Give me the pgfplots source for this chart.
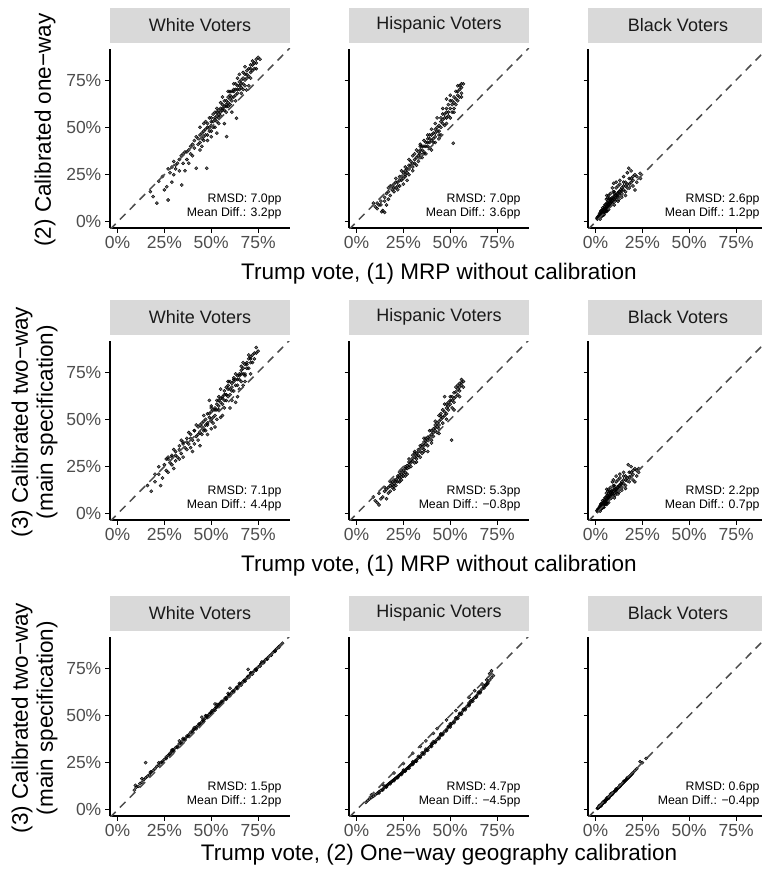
\documentclass[border=0pt]{standalone}
\usepackage{pgfplots}
\pgfplotsset{compat=1.18}
\usepackage{fontspec}
\setmainfont{Liberation Sans}
\definecolor{stripgray}{HTML}{D9D9D9}
\definecolor{tickgray}{HTML}{4D4D4D}
\definecolor{textdark}{HTML}{1A1A1A}
\pgfplotsset{
 panel/.style={
  scale only axis, width=180pt, height=179pt, anchor=south west,
  xmin=-4, xmax=92, ymin=-3.2, ymax=91.4,
  axis x line*=bottom, axis y line*=left,
  axis line style={-, line width=1.3pt, black},
  xtick={0,25,50,75}, ytick={0,25,50,75},
  xticklabels={0\%,25\%,50\%,75\%},
  yticklabels={0\%,25\%,50\%,75\%},
  tick align=outside, major tick length=4.5pt,
  every tick/.style={black, line width=1pt},
  tick label style={font=\fontsize{17.5}{17.5}\selectfont, text=tickgray, inner sep=1pt},
  xticklabel style={yshift=-3pt},
  yticklabel style={xshift=-3pt},
  title style={at={(0.5,1)}, anchor=south, fill=stripgray, minimum width=180pt, minimum height=35pt, inner sep=0pt, text=textdark, font=\fontsize{18}{18}\selectfont},
  clip mode=individual,
 },
 noy/.style={yticklabels={}},
 pts/.style={only marks, mark=*, mark size=1.6pt, mark options={draw=none, fill=black, fill opacity=0.6}},
 diag/.style={no marks, color=black!70, line width=1.5pt, dash pattern=on 8pt off 6pt},
}
\tikzset{
 ann/.style={anchor=base east, inner sep=0pt, font=\fontsize{12.3}{12.3}\selectfont},
 ylab/.style={rotate=90, align=center, inner sep=0pt, font=\fontsize{22.5}{25}\selectfont},
 xlab/.style={anchor=base, inner sep=0pt, font=\fontsize{22.5}{25}\selectfont},
}
\begin{document}
\begin{tikzpicture}
\useasboundingbox (0pt,0pt) rectangle (762pt,-871pt);
% ---------------- Row 1 ----------------
\begin{axis}[panel, at={(110pt,-228pt)}, title={White Voters}]
\addplot[pts] coordinates {(17.5,16)(19,13.4)(21,10)(26.3,18.6)(27,11.6)(34.3,19.5)(25,17)(22,21.5)(24,24)(28,26)(29,21)(31,28)(30,32)(32,31)(33,27)(36,27)(37,33)(42,28.4)(47.6,28.4)(38,38)(39,36)(40,41)(41,39)(36,37)(34,35)(38,31)(43,44)(44,42)(45,47)(46,45)(44,38)(47,49)(48,50)(46,52)(49,48)(50,51)(51,53)(49,55)(50,45)(52,50)(53,56)(52,58)(54,57)(55,60)(54,52)(56,62)(55,56)(57,61)(58,64)(56,66)(59,63)(60,67)(58,58)(61,69)(62,66)(60,62)(63,70)(62,73)(64,68)(65,74)(66,71)(63,64)(67,76)(65,78)(68,75)(66,68)(69,80)(70,77)(68,82)(71,83)(72,85)(70,72)(73,84)(74,86)(75,87)(72,80)(76,86)(68.8,69.7)(63.5,54.8)(58.2,45.1)(53,47)(57,52)(61,58)(48,43)(42,45)(44,50)(51,57)(55,63)(59,69)(53,60)(47,53)(45,40)(40,35)(35,31)(30,25)(64,76)(67,70)(71,76)(74,81)};
\addplot[pts] coordinates {(45,44)(46,48)(47,46)(48,52)(49,50)(50,53)(51,50)(52,55)(53,53)(54,59)(55,58)(56,59)(57,64)(58,62)(59,66)(60,65)(61,64)(62,69)(63,67)(64,72)(65,70)(66,75)(67,73)(68,78)(69,76)(70,81)(71,79)(72,83)(73,81)(74,84)(50,48)(52,54)(54,55)(56,60)(58,61)(60,69)(62,70)(64,70)(66,73)(68,72)(43,41)(41,43)(39,40)(37,37)(35,36)(33,33)(31,30)(29,29)(27,28)(44,46)(46,43)(48,46)(50,55)(53,58)(57,59)(59,61)(61,66)(63,73)(65,72)(67,79)(69,78)(71,81)};
\addplot[diag] coordinates {(-4,-4)(92,92)};
\node[ann] at (rel axis cs:0.954,0.145) {RMSD: 7.0pp};
\node[ann] at (rel axis cs:0.954,0.063) {Mean Diff.: 3.2pp};
\node[ylab] at ([xshift=-65pt]rel axis cs:0,0.547) {(2) Calibrated one−way};
\end{axis}
\begin{axis}[panel, noy, at={(349pt,-228pt)}, title={Hispanic Voters}]
\addplot[pts] coordinates {(9,10)(10,8)(11,7)(12,9)(13.5,5.4)(14,6)(15,5)(16,9)(13,11)(15,13)(17,12)(16,15)(18,14)(19,17)(18,19)(20,16)(20,20)(21,18)(22,21)(21,23)(22,17)(23,22)(24,24)(23,19)(25,23)(24,27)(26,25)(25,20)(27,26)(26,29)(28,28)(27,22)(29,30)(28,33)(30,31)(30,27)(31,33)(32,30)(31,36)(33,35)(32,38)(34,36)(33,32)(35,38)(34,41)(36,37)(35,34)(37,40)(36,43)(38,42)(37,36)(39,44)(38,46)(40,43)(39,39)(41,47)(40,49)(42,45)(41,42)(43,50)(42,52)(44,48)(43,55)(45,53)(44,44)(46,57)(45,50)(47,55)(46,60)(48,58)(47,51)(49,62)(48,65)(50,60)(49,56)(51,64)(50,67)(52,63)(51.6,41.6)(51,58)(53,69)(52,66)(54,67)(53,62)(55,70)(54,72)(56,71)(55,66)(57,73)(56,68)(30,35)(34,40)(38,44)(42,49)(46,54)(26,27)(21,21)(17,16)(11,10)(28,25)(40,38)(44,46)(48,52)};
\addplot[pts] coordinates {(20,18)(22,19)(24,22)(26,24)(28,30)(30,29)(32,34)(34,38)(36,40)(38,40)(40,46)(42,47)(44,51)(46,52)(48,60)(50,64)(52,60)(54,69)(56,73)(23,24)(25,26)(27,28)(29,32)(31,31)(33,37)(35,40)(37,42)(39,46)(41,44)(43,48)(45,55)(47,57)(49,58)(51,62)(53,65)(55,72)(19,19)(17,18)(15,11)(13,9)(36,36)(39,42)(42,42)(45,46)(48,55)(50,55)(52,58)(54,64)(56,66)(34,34)};
\addplot[diag] coordinates {(-4,-4)(92,92)};
\node[ann] at (rel axis cs:0.954,0.145) {RMSD: 7.0pp};
\node[ann] at (rel axis cs:0.954,0.063) {Mean Diff.: 3.6pp};
\node[xlab] at ([yshift=-51pt]rel axis cs:0.5,0) {Trump vote, (1) MRP without calibration};
\end{axis}
\begin{axis}[panel, noy, at={(588pt,-228pt)}, title={Black Voters}]
\addplot[pts] coordinates {(0.7,2)(1,1.5)(1.5,2)(2,2.5)(1.8,3.5)(2.5,3)(3,2.8)(2.2,4.5)(3,4)(3.5,5)(3,6)(4,4.5)(4,6.5)(4.5,5)(5,6)(4.8,8)(5.5,5.5)(5,9)(6,7)(6,10)(6.5,8)(5.8,12)(7,8)(7,11)(7.5,9)(7.8,11.6)(7,14)(8,10)(8.5,12)(8,15)(9,10)(9,13)(9.5,16)(9.7,20.4)(10,12)(10,15)(10.5,11)(11,14)(11,18)(11.5,13)(12,15)(12,19)(12.5,12)(13,16)(13,20)(14,15)(14,18)(15,17)(15,21)(16,16)(16,19)(17,20)(17.7,28.4)(18,18)(18,23)(19,21)(20,22)(21.1,16.9)(21,25)(22,24)(23.8,25.7)(19,27)(15,24)(2.5,1.5)(3.5,3.2)(4.5,3.8)(6,5.5)(7,6.5)(1.2,2.8)(2.8,5.5)(3.8,7.5)(6.5,12.5)(8.5,9)(10,9)(12,11)(14,13)(16,14)(13,22)(11,21)(6,14)(9,18)(17,26)(20,19)(22,21)(24,23)};
\addplot[pts] coordinates {(1.5,2.5)(2,3.2)(2.5,4)(3,3.3)(3.5,4)(4,5.2)(4.5,6)(5,5.2)(5.5,7)(6,8.2)(6.5,6.8)(7,9.5)(7.5,10.5)(8,8.5)(8.5,10.5)(9,11.5)(9.5,12.5)(10,13.5)(10.5,14)(11,12)(11.5,15)(12,13)(12.5,16)(13,14)(13.5,17)(14,16.5)(15,19)(16,21)(17,18)(18,20)(19,23)(20,24)(3,4.8)(4,3.5)(5,7)(6,6)(7,9)(8,12)(9,11)(10,16)(5.5,9)(6.5,10)(7.5,12.5)(4.5,7)(3.5,6)};
\addplot[diag] coordinates {(-4,-4)(92,92)};
\node[ann] at (rel axis cs:0.954,0.145) {RMSD: 2.6pp};
\node[ann] at (rel axis cs:0.954,0.063) {Mean Diff.: 1.2pp};
\end{axis}
% ---------------- Row 2 ----------------
\begin{axis}[panel, at={(110pt,-520pt)}, title={White Voters}]
\addplot[pts] coordinates {(16,15)(18,12)(20,17)(22,21)(24,19)(25,26)(26,23)(27,30)(28,27)(29,31)(30,24)(31,33)(32,30)(33,36)(34,32)(35,38)(36,35)(37,40)(38,37)(39,42)(40,39)(41,44)(42,41)(40,33)(43,46)(44,43)(45,48)(46,45)(44,36)(47,50)(48,47)(49,53)(50,50)(48,42)(51,55)(52,52)(53,58)(54,55)(52,46)(55,61)(56,58)(57,63)(58,60)(56,52)(59,66)(60,63)(61,69)(62,65)(60,56)(63,71)(64,68)(65,74)(66,70)(64,62)(67,77)(68,74)(69,80)(70,77)(68,70)(71,83)(72,80)(73,85)(74,88)(75,86)(70,84)(66,78)(62,72)(58,67)(54,62)(50,57)(46,52)(42,47)(38,43)(34,39)(30,34)(26,29)(22,25)(53,50)(57,56)(61,60)(65,66)(45,42)(41,37)(37,34)(33,29)(29,26)(50,45)(55,51)(63,59)(67,68)(71,74)(49,60)(55,66)(59,70)(35,30)(20,21)(23,15)(27,22)(31,28)(47,44)(51,48)(43,39)(39,35)};
\addplot[pts] coordinates {(45,46)(46,49)(47,47)(48,53)(49,51)(50,54)(51,51)(52,56)(53,55)(54,60)(55,59)(56,61)(57,65)(58,63)(59,68)(60,66)(61,65)(62,70)(63,68)(64,73)(65,71)(66,76)(67,74)(68,79)(69,77)(70,82)(71,80)(72,84)(73,82)(74,85)(50,49)(52,55)(54,57)(56,62)(58,63)(60,70)(62,71)(64,71)(66,74)(68,73)(43,42)(41,44)(39,40)(37,38)(35,37)(33,34)(31,31)(29,30)(27,29)(44,47)(46,44)(48,48)(50,56)(53,60)(57,60)(59,62)(61,67)(63,74)(65,73)(67,80)(69,79)(71,82)};
\addplot[diag] coordinates {(-4,-4)(92,92)};
\node[ann] at (rel axis cs:0.954,0.145) {RMSD: 7.1pp};
\node[ann] at (rel axis cs:0.954,0.063) {Mean Diff.: 4.4pp};
\node[ylab] at ([xshift=-75.5pt]rel axis cs:0,0.547) {(3) Calibrated two−way\\(main specification)};
\end{axis}
\begin{axis}[panel, noy, at={(349pt,-520pt)}, title={Hispanic Voters}]
\addplot[pts] coordinates {(9,9)(10,7)(11,6)(12,4.8)(13,8)(12,11)(14,9)(15,12)(16,8)(16,13)(17,11)(18,15)(18,12)(19,14)(19,17)(20,16)(20,13)(21,18)(21,15)(22,17)(22,20)(23,19)(23,22)(24,18)(24,21)(25,23)(25,20)(26,22)(26,25)(27,24)(27,21)(28,26)(28,29)(29,25)(29,28)(30,28)(30,31)(31,27)(31,30)(32,32)(32,29)(33,31)(33,34)(34,33)(34,36)(35,35)(35,32)(36,38)(36,34)(37,37)(37,40)(38,39)(38,36)(39,41)(39,44)(40,42)(40,39)(41,45)(41,41)(42,44)(42,47)(43,46)(43,43)(44,49)(44,45)(45,50)(45,53)(46,48)(46,55)(47,52)(47,58)(48,56)(48,53)(49,59)(49,55)(50,58)(50,62)(50.7,39)(51,60)(51,56)(52,64)(52,61)(53,62)(53,67)(54,66)(54,63)(55,65)(55,69)(56,68)(56,71)(57,67)(57,70)(47,62)(44,52)(38,33)(34,30)(26,20)(23,17)(31,33)(36,40)(42,49)(15,14)(17,14)};
\addplot[pts] coordinates {(18,17)(19,15.5)(20,18)(21,17)(22,19)(23,20.5)(24,23)(25,21.5)(26,24)(27,25.5)(28,27.5)(29,27)(30,29.5)(31,32)(32,30.5)(33,33)(34,34.5)(35,36.5)(36,36)(37,38.5)(38,40.5)(39,39.5)(40,44)(41,43)(42,45.5)(43,48)(44,47)(45,51.5)(46,51)(47,54)(48,58)(49,57)(50,60)(51,62)(52,59)(53,64.5)(54,68)(55,67)(56,69.5)(20,14.5)(24,19.5)(28,24.5)(32,27.5)(36,33)(40,37.5)(44,42.5)(48,50)(52,55)(55,62)};
\addplot[diag] coordinates {(-4,-4)(92,92)};
\node[ann] at (rel axis cs:0.954,0.145) {RMSD: 5.3pp};
\node[ann] at (rel axis cs:0.954,0.063) {Mean Diff.: −0.8pp};
\node[xlab] at ([yshift=-51pt]rel axis cs:0.5,0) {Trump vote, (1) MRP without calibration};
\end{axis}
\begin{axis}[panel, noy, at={(588pt,-520pt)}, title={Black Voters}]
\addplot[pts] coordinates {(0.8,1.8)(1,1.2)(1.5,2)(2,2.3)(1.8,3)(2.5,2.8)(3,2.5)(2.2,4)(3,3.8)(3.5,4.5)(3,5.5)(4,4.2)(4,6)(4.5,5)(5,5.5)(4.8,7.5)(5.5,5.2)(5,8.5)(6,6.5)(6,9.5)(6.5,7.5)(5.8,11)(7,7.5)(7,10.5)(7.5,8.5)(8,11)(7,13)(8,9.5)(8.5,12)(8,14)(9,9.5)(9,12.5)(9.5,15)(9.5,18)(10,11)(10,14)(10.5,10)(11,13)(11,17)(11.5,12)(12,14)(12,18)(12.5,11.5)(13,15)(13,19)(14,14)(14,17)(15,16)(15,20)(16,15)(16,18)(17,19)(17.5,26)(18,17)(18,22)(19,20)(20,21)(21,17)(21,24)(22,23)(23,24)(19,25)(15,22)(2.5,1.5)(3.5,3)(4.5,3.5)(6,5)(7,6)(1.2,2.5)(2.8,5)(3.8,7)(6.5,12)(8.5,8.5)(10,8.5)(12,10.5)(14,12.5)(16,13.5)(13,21)(11,20)(6,13)(9,17)(20,18)(22,20)(23,22)};
\addplot[pts] coordinates {(1.5,2.4)(2,3)(2.5,3.6)(3,3.1)(3.5,3.8)(4,5)(4.5,5.6)(5,4.9)(5.5,6.6)(6,7.8)(6.5,6.4)(7,9)(7.5,10)(8,8.2)(8.5,10)(9,11)(9.5,12)(10,12.8)(10.5,13.2)(11,11.5)(11.5,14.2)(12,12.5)(12.5,15)(13,13.5)(13.5,16)(14,15.8)(15,18)(16,20)(17,17.5)(18,19.5)(19,22)(20,23)(3,4.5)(4,3.4)(5,6.6)(6,5.8)(7,8.5)(8,11.5)(9,10.5)(10,15)(5.5,8.5)(6.5,9.5)(7.5,12)(4.5,6.6)(3.5,5.6)};
\addplot[diag] coordinates {(-4,-4)(92,92)};
\node[ann] at (rel axis cs:0.954,0.145) {RMSD: 2.2pp};
\node[ann] at (rel axis cs:0.954,0.063) {Mean Diff.: 0.7pp};
\end{axis}
% ---------------- Row 3 ----------------
\begin{axis}[panel, at={(110pt,-816pt)}, title={White Voters}]
\addplot[pts] coordinates {(9,10.5)(10,12)(11,12.5)(12,14)(13,14.6)(14,16)(15,25)(15,17)(16,17.8)(17,18.5)(17.5,20)(18,20)(19,20.8)(20,21.8)(21,23)(22,23.6)(23,25)(24,25.8)(25,26.7)(26,28)(27,28.8)(28,29.9)(29,31)(29.5,31.8)(30,31.7)(31,33)(32,33.6)(33,35)(34,35.8)(35,37)(36,37.6)(37,39)(37.5,38.8)(38,39.8)(39,41)(40,41.7)(40.5,42.6)(41,42.6)(42,43.8)(43,44.7)(43.5,45.5)(44,45.6)(45,46.6)(45.5,47.5)(46,47.6)(47,48.5)(47.5,49.5)(48,49.6)(49,50.6)(49.5,51.3)(50,51.5)(50.5,52.5)(51,52.4)(52,53.5)(52.5,54.3)(53,54.4)(54,55.4)(54.5,56.2)(55,56.3)(55.5,57.3)(56,57.3)(57,58.3)(57.5,59.2)(58,59.2)(59,60.2)(59.5,61)(60,61)(60,64.3)(61,62.1)(61.5,62.8)(62,62.9)(63,64)(63.5,64.8)(64,64.9)(65,65.9)(65.5,66.6)(66,66.8)(67,67.8)(67.5,68.5)(68,68.7)(69,69.7)(69.5,70.5)(69.7,74.3)(70,70.6)(71,71.6)(71.5,72.3)(72,72.5)(73,73.5)(73.5,74.3)(74,74.5)(75,75.5)(76,76.4)(76.5,77.2)(77,77.4)(78,78.3)(79,79.4)(80,80.3)(81,81.3)(82,82.2)(83,83.3)(84,84.2)(85,85.2)(86,86.2)(87,87.1)(88,88.1)(45,49)(52,56)(33,36.5)(22,25)(13,16.5)(9.5,13)};
\addplot[pts] coordinates {(24,25)(26,27.2)(28,29)(30,31)(32,33)(34,35)(36,37)(38,38.9)(40,40.9)(42,42.9)(44,44.9)(46,46.8)(48,48.8)(50,50.8)(52,52.7)(54,54.7)(56,56.6)(58,58.5)(60,60.4)(62,62.3)(64,64.2)(66,66.1)(68,68)(70,70)(72,71.9)(74,73.9)(76,75.9)(78,77.8)(80,79.8)(82,81.8)(84,83.8)(86,85.9)(41,43.5)(47,49.8)(53,55.8)(59,61.6)(65,66.9)(71,72.4)(77,78.2)(35,37.8)(29,31.6)};
\addplot[diag] coordinates {(-4,-4)(92,92)};
\node[ann] at (rel axis cs:0.954,0.145) {RMSD: 1.5pp};
\node[ann] at (rel axis cs:0.954,0.063) {Mean Diff.: 1.2pp};
\node[ylab] at ([xshift=-75.5pt]rel axis cs:0,0.547) {(3) Calibrated two−way\\(main specification)};
\end{axis}
\begin{axis}[panel, noy, at={(349pt,-816pt)}, title={Hispanic Voters}]
\addplot[pts] coordinates {(5,4)(6,5)(7,5.8)(8,6.6)(9,7.2)(10,8)(11,8.8)(12,9.6)(13,10.3)(14,11)(15,12)(15.5,12.4)(16,12.8)(16.5,13.1)(17,13.6)(17.5,14)(18,14.5)(18.5,14.8)(19,15.2)(19.5,15.6)(20,16)(20.5,16.4)(21,16.8)(21.5,17.2)(22,17.7)(22.5,18.1)(23,18.5)(23.5,18.9)(24,19.4)(24.5,19.8)(25,20.2)(25.5,20.6)(26,21.1)(26.5,21.5)(27,22)(27.5,22.4)(28,22.8)(28.5,23.3)(29,23.8)(29.5,24.2)(30,24.7)(30.5,25.1)(31,25.6)(31.5,26)(32,26.5)(33,27.5)(34,28.4)(35,29.4)(36,30.4)(37,31.4)(38,32.4)(39,33.3)(40,34.3)(41,35.3)(42,36.3)(43,37.3)(44,38.4)(45,39.4)(46,40.4)(47,41.5)(48,42.5)(49,43.6)(50,44.7)(51,45.8)(52,46.9)(53,48)(54,49.1)(55,50.2)(56,51.4)(57,52.6)(58,53.7)(59,54.9)(60,55.8)(61,57)(62,58.2)(63,59.3)(64,60.4)(65,61.5)(66,62.8)(67,64)(68,65.1)(69,66.3)(70,67.3)(71,68.6)(72,69.9)(73,71)(8,8)(14,13.5)(20,19.5)(25,24.5)(30,30)(34,33.5)(37,36.5)(41,40.5)(43,43)(48,47.5)(53,52.5)(60,59.5)(63,63)(67,66.5)(69.4,68.7)(71,72)(72,73.5)(25,21)(35,30.2)(45,40.2)(55,51)(40,35)(30,25.5)(50,45.5)(60,56.5)};
\addplot[pts] coordinates {(12,9)(14,10.5)(16,12.2)(18,13.8)(20,15.4)(22,17)(24,18.7)(26,20.4)(28,22.1)(30,24)(32,25.8)(34,27.7)(36,29.6)(38,31.6)(40,33.6)(42,35.6)(44,37.6)(46,39.7)(48,41.8)(50,43.9)(52,46.1)(54,48.3)(56,50.6)(58,52.9)(60,55.1)(62,57.4)(64,59.7)(66,62)(68,64.4)(70,66.7)(33,28.3)(37,32.2)(41,36.1)(45,40)(49,44.2)(53,48.6)(57,53.2)(61,57.7)(65,62.2)(69,65.7)};
\addplot[diag] coordinates {(-4,-4)(92,92)};
\node[ann] at (rel axis cs:0.954,0.145) {RMSD: 4.7pp};
\node[ann] at (rel axis cs:0.954,0.063) {Mean Diff.: −4.5pp};
\node[xlab] at ([yshift=-44pt]rel axis cs:0.5,0) {Trump vote, (2) One−way geography calibration};
\end{axis}
\begin{axis}[panel, noy, at={(588pt,-816pt)}, title={Black Voters}]
\addplot[pts] coordinates {(1,0.8)(1.3,1)(1.6,1.3)(2,1.6)(2.3,1.9)(2.6,2.2)(3,2.6)(3.3,2.8)(3.6,3.2)(4,3.6)(4.3,3.9)(4.6,4.2)(5,4.6)(5.4,5)(5.8,5.4)(6.2,5.8)(6.6,6.2)(7,6.6)(7.4,7)(7.8,7.4)(8.2,7.8)(8.6,8.2)(9,8.6)(9.5,9.1)(10,9.6)(10.5,10.1)(11,10.6)(11.5,11.1)(12,11.6)(12.5,12.1)(13,12.6)(13.5,13.1)(14,13.6)(14.5,14.1)(15,14.6)(15.5,15.1)(16,15.6)(16.5,16.1)(17,16.6)(17.5,17.1)(18,17.6)(18.5,18.1)(19,18.6)(19.5,19.1)(20,19.7)(21,20.8)(22,21.8)(23.8,25.5)(25,25)(27,27.2)(2,2.3)(4,4.2)(6,6.3)(8,8.4)(3,2.2)(5,4.1)(7,6.1)(9,8.2)(11,10.2)(13,12.3)};
\addplot[pts] coordinates {(1.5,1.4)(2.5,2.3)(3.5,3.2)(4.5,4.1)(5.5,5.2)(6.5,6.1)(7.5,7.2)(8.5,8.1)(9.5,9.2)(10.5,10.2)(11.5,11.2)(12.5,12.2)(13.5,13.2)(14.5,14.2)(15.5,15.2)(16.5,16.2)(17.5,17.2)(18.5,18.2)(19.5,19.3)(3,3.1)(5,5.1)(7,7.1)(9,9.1)(11,11.1)(13,13.1)(15,15.1)(17,17.1)};
\addplot[diag] coordinates {(-4,-4)(92,92)};
\node[ann] at (rel axis cs:0.954,0.145) {RMSD: 0.6pp};
\node[ann] at (rel axis cs:0.954,0.063) {Mean Diff.: −0.4pp};
\end{axis}
\end{tikzpicture}
\end{document}
